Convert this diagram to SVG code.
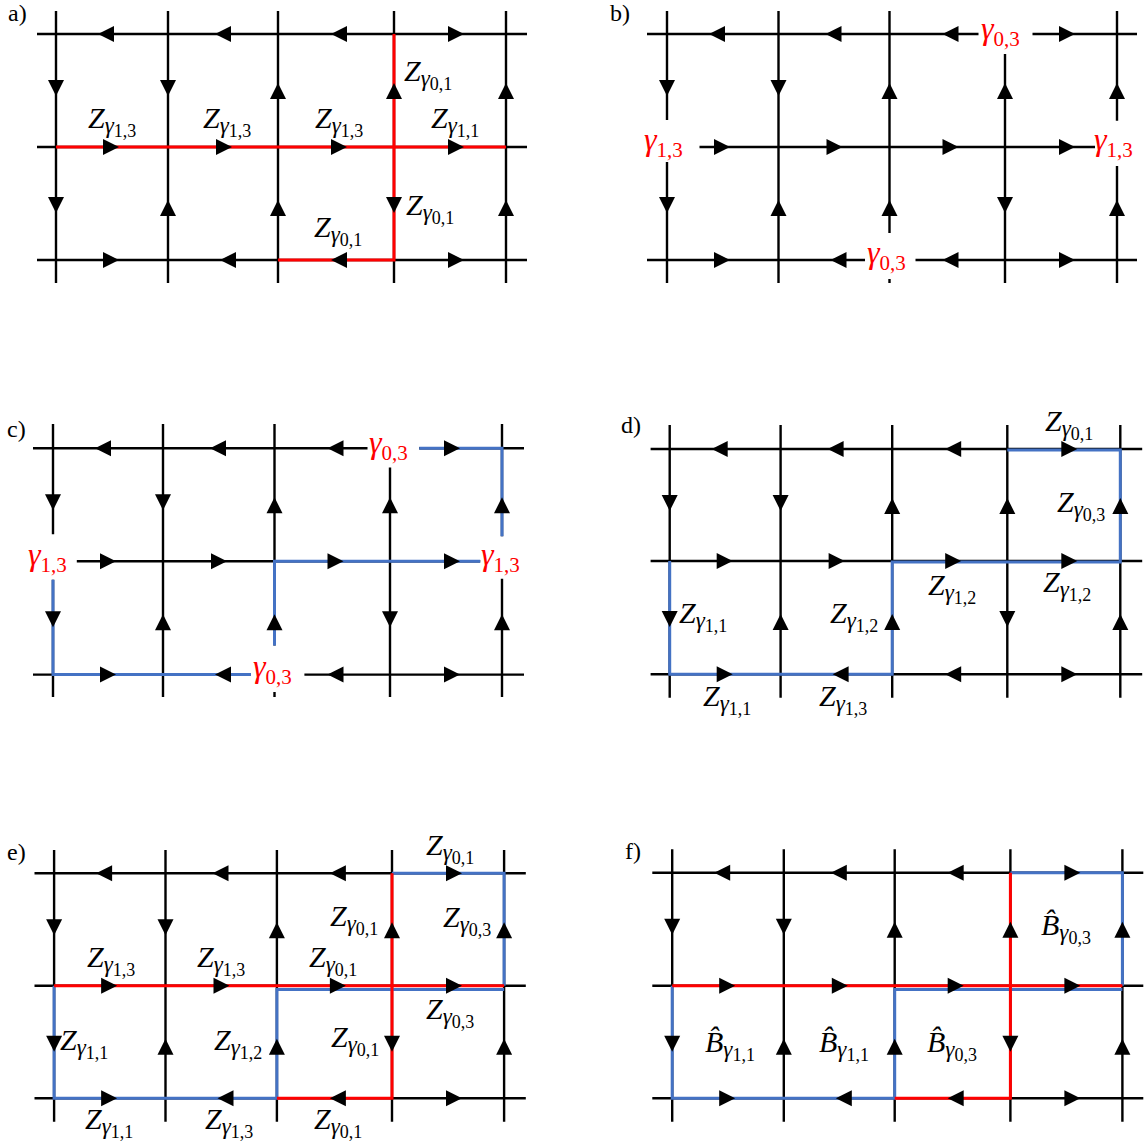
<svg xmlns="http://www.w3.org/2000/svg" width="1146" height="1147" viewBox="0 0 1146 1147">
<style>
.bg{fill:#fff}
.grid{fill:none;stroke:#000;stroke-width:2.4}
.red{fill:none;stroke:#ff0000;stroke-width:3}
.blue{fill:none;stroke:#4472c4;stroke-width:3}
.arr use{fill:#000}
.tag{font-family:"Liberation Serif","Times New Roman",serif;font-size:24px;fill:#000}
.m{font-family:"Liberation Serif","Times New Roman",serif;font-style:italic;font-size:30px;fill:#000}
.s1{font-size:23px}
.s2{font-size:18px;font-style:normal}
.r{fill:#ff0000;font-size:32px}
.r .s2{font-size:21px}
</style>
<defs>
<path id="R" d="M-8,-8L8,0L-8,8Z"/>
<path id="L" d="M8,-8L-8,0L8,8Z"/>
<path id="U" d="M-8,8L0,-8L8,8Z"/>
<path id="D" d="M-8,-8L0,8L8,-8Z"/>
</defs>
<rect class="bg" x="0" y="0" width="1146" height="1147"/>

<!-- Panel a -->
<g id="panel-a">
<text class="tag" x="8" y="21">a)</text>
<g id="a-connectors">
<path class="grid" d="M37,34H527M37,147H527M37,260H527M56,11V283M168,11V283M278,11V283M394,11V283M506,11V283"/>
<path class="red" d="M56,147H506M394,34V260H278"/>
</g>
<g class="arr">
<use href="#L" x="106" y="34"/><use href="#L" x="223" y="34"/><use href="#L" x="339" y="34"/><use href="#R" x="456" y="34"/>
<use href="#R" x="111" y="147"/><use href="#R" x="224" y="147"/><use href="#R" x="339" y="147"/><use href="#R" x="456" y="147"/>
<use href="#R" x="111" y="260"/><use href="#L" x="228" y="260"/><use href="#L" x="339" y="260"/><use href="#R" x="456" y="260"/>
<use href="#D" x="56" y="88"/><use href="#D" x="168" y="88"/><use href="#U" x="278" y="91"/><use href="#U" x="394" y="91"/><use href="#U" x="506" y="91"/>
<use href="#D" x="56" y="205"/><use href="#U" x="168" y="208"/><use href="#U" x="278" y="208"/><use href="#D" x="394" y="205"/><use href="#U" x="506" y="208"/>
</g>
<g id="a-labels">
<text class="m" x="88" y="128">Z<tspan class="s1" dy="5">γ</tspan><tspan class="s2" dy="4">1,3</tspan></text>
<text class="m" x="203" y="128">Z<tspan class="s1" dy="5">γ</tspan><tspan class="s2" dy="4">1,3</tspan></text>
<text class="m" x="315" y="128">Z<tspan class="s1" dy="5">γ</tspan><tspan class="s2" dy="4">1,3</tspan></text>
<text class="m" x="431" y="128">Z<tspan class="s1" dy="5">γ</tspan><tspan class="s2" dy="4">1,1</tspan></text>
<text class="m" x="404" y="81">Z<tspan class="s1" dy="5">γ</tspan><tspan class="s2" dy="4">0,1</tspan></text>
<text class="m" x="406" y="215">Z<tspan class="s1" dy="5">γ</tspan><tspan class="s2" dy="4">0,1</tspan></text>
<text class="m" x="314" y="237">Z<tspan class="s1" dy="5">γ</tspan><tspan class="s2" dy="4">0,1</tspan></text>
</g>
</g>

<!-- Panel b -->
<g id="panel-b">
<text class="tag" x="610" y="21">b)</text>
<g id="b-connectors">
<path class="grid" d="M647,34H978.5M1032.5,34H1137M699.5,147H1095M647,260H865M915.5,260H1137M667,11V120M667,162V283M778.5,11V283M889.5,11V233M889.5,279V283M1005,54V283M1117,11V120.7M1117,166V283"/>
</g>
<g class="arr">
<use href="#L" x="717" y="34"/><use href="#L" x="833.5" y="34"/><use href="#L" x="950.5" y="34"/><use href="#R" x="1067" y="34"/>
<use href="#R" x="722" y="147"/><use href="#R" x="834.5" y="147"/><use href="#R" x="950.5" y="147"/><use href="#R" x="1067" y="147"/>
<use href="#R" x="722" y="260"/><use href="#L" x="838.5" y="260"/><use href="#L" x="950.5" y="260"/><use href="#R" x="1067" y="260"/>
<use href="#D" x="667" y="88"/><use href="#D" x="778.5" y="88"/><use href="#U" x="889.5" y="91"/><use href="#U" x="1005" y="91"/><use href="#U" x="1117" y="91"/>
<use href="#D" x="667" y="205"/><use href="#U" x="778.5" y="208"/><use href="#U" x="889.5" y="208"/><use href="#D" x="1005" y="205"/><use href="#U" x="1117" y="208"/>
</g>
<g id="b-labels">
<text class="m r" x="981" y="39">γ<tspan class="s2" dy="7">0,3</tspan></text>
<text class="m r" x="644" y="150">γ<tspan class="s2" dy="7">1,3</tspan></text>
<text class="m r" x="1094" y="150">γ<tspan class="s2" dy="7">1,3</tspan></text>
<text class="m r" x="867" y="263">γ<tspan class="s2" dy="7">0,3</tspan></text>
</g>
</g>

<!-- Panel c -->
<g id="panel-c">
<text class="tag" x="7" y="437">c)</text>
<g id="c-connectors">
<path class="grid" d="M33,448.3H367.5M419.2,448.3H524M76.8,561.3H480.2M33,674.6H251M304.4,674.6H524M53,424V534.2M53,579.7V697M163,424V697M274.5,424V645.5M274.5,692V697M390,467.4V697M502,424V536.2M502,578.7V697"/>
<path class="blue" d="M419.2,448.3H502V536.2M480.2,561.3H274.5V645.5M53,579.7V674.6H251"/>
</g>
<g class="arr">
<use href="#L" x="103" y="448.3"/><use href="#L" x="218" y="448.3"/><use href="#L" x="335.5" y="448.3"/><use href="#R" x="452" y="448.3"/>
<use href="#R" x="108" y="561.3"/><use href="#R" x="219" y="561.3"/><use href="#R" x="335.5" y="561.3"/><use href="#R" x="452" y="561.3"/>
<use href="#R" x="108" y="674.6"/><use href="#L" x="223" y="674.6"/><use href="#L" x="335.5" y="674.6"/><use href="#R" x="452" y="674.6"/>
<use href="#D" x="53" y="502.3"/><use href="#D" x="163" y="502.3"/><use href="#U" x="274.5" y="505.3"/><use href="#U" x="390" y="505.3"/><use href="#U" x="502" y="505.3"/>
<use href="#D" x="53" y="619.3"/><use href="#U" x="163" y="622.3"/><use href="#U" x="274.5" y="622.3"/><use href="#D" x="390" y="619.3"/><use href="#U" x="502" y="622.3"/>
</g>
<g id="c-labels">
<text class="m r" x="369" y="453">γ<tspan class="s2" dy="7">0,3</tspan></text>
<text class="m r" x="28" y="565">γ<tspan class="s2" dy="7">1,3</tspan></text>
<text class="m r" x="481" y="565">γ<tspan class="s2" dy="7">1,3</tspan></text>
<text class="m r" x="253" y="677">γ<tspan class="s2" dy="7">0,3</tspan></text>
</g>
</g>

<!-- Panel d -->
<g id="panel-d">
<text class="tag" x="621" y="433">d)</text>
<g id="d-connectors">
<path class="grid" d="M650.6,449H1142.2M650.6,561H1142.2M650.6,674.3H1142.2M669.7,425V697.7M780.6,425V697.7M892.2,425V697.7M1007.3,425V697.7M1120.3,425V697.7"/>
<path class="blue" d="M1007.3,450H1120.3V562H892.2V674.3H669.7V561"/>
</g>
<g class="arr">
<use href="#L" x="719.7" y="449"/><use href="#L" x="835.6" y="449"/><use href="#L" x="953.2" y="449"/><use href="#R" x="1069.3" y="449"/>
<use href="#R" x="724.7" y="561"/><use href="#R" x="836.6" y="561"/><use href="#R" x="953.2" y="561"/><use href="#R" x="1069.3" y="561"/>
<use href="#R" x="724.7" y="674.3"/><use href="#L" x="840.6" y="674.3"/><use href="#L" x="953.2" y="674.3"/><use href="#R" x="1069.3" y="674.3"/>
<use href="#D" x="669.7" y="503"/><use href="#D" x="780.6" y="503"/><use href="#U" x="892.2" y="506"/><use href="#U" x="1007.3" y="506"/><use href="#U" x="1120.3" y="506"/>
<use href="#D" x="669.7" y="619"/><use href="#U" x="780.6" y="622"/><use href="#U" x="892.2" y="622"/><use href="#D" x="1007.3" y="619"/><use href="#U" x="1120.3" y="622"/>
</g>
<g id="d-labels">
<text class="m" x="1045" y="431">Z<tspan class="s1" dy="5">γ</tspan><tspan class="s2" dy="4">0,1</tspan></text>
<text class="m" x="1057" y="512">Z<tspan class="s1" dy="5">γ</tspan><tspan class="s2" dy="4">0,3</tspan></text>
<text class="m" x="928" y="595">Z<tspan class="s1" dy="5">γ</tspan><tspan class="s2" dy="4">1,2</tspan></text>
<text class="m" x="1043" y="592">Z<tspan class="s1" dy="5">γ</tspan><tspan class="s2" dy="4">1,2</tspan></text>
<text class="m" x="679" y="623">Z<tspan class="s1" dy="5">γ</tspan><tspan class="s2" dy="4">1,1</tspan></text>
<text class="m" x="830" y="623">Z<tspan class="s1" dy="5">γ</tspan><tspan class="s2" dy="4">1,2</tspan></text>
<text class="m" x="703" y="706">Z<tspan class="s1" dy="5">γ</tspan><tspan class="s2" dy="4">1,1</tspan></text>
<text class="m" x="819" y="706">Z<tspan class="s1" dy="5">γ</tspan><tspan class="s2" dy="4">1,3</tspan></text>
</g>
</g>

<!-- Panel e -->
<g id="panel-e">
<text class="tag" x="7" y="860">e)</text>
<g id="e-connectors">
<path class="grid" d="M34.5,873.3H525.8M34.5,985.7H525.8M34.5,1098.3H525.8M54.1,850V1121.7M165.5,850V1121.7M276.9,850V1121.7M392,850V1121.7M504.1,850V1121.7"/>
<path class="blue" d="M392,873.3H504.1V985.7M504.1,989.5H276.9V1098.3H54.1V985.7"/>
<path class="red" d="M54.1,985.7H504.1M392,873.3V1098.3H276.9"/>
</g>
<g class="arr">
<use href="#L" x="104.1" y="873.3"/><use href="#L" x="220.5" y="873.3"/><use href="#L" x="337.9" y="873.3"/><use href="#R" x="454" y="873.3"/>
<use href="#R" x="109.1" y="985.7"/><use href="#R" x="221.5" y="985.7"/><use href="#R" x="337.9" y="985.7"/><use href="#R" x="454" y="985.7"/>
<use href="#R" x="109.1" y="1098.3"/><use href="#L" x="225.5" y="1098.3"/><use href="#L" x="337.9" y="1098.3"/><use href="#R" x="454" y="1098.3"/>
<use href="#D" x="54.1" y="927.3"/><use href="#D" x="165.5" y="927.3"/><use href="#U" x="276.9" y="930.3"/><use href="#U" x="392" y="930.3"/><use href="#U" x="504.1" y="930.3"/>
<use href="#D" x="54.1" y="1043.7"/><use href="#U" x="165.5" y="1046.7"/><use href="#U" x="276.9" y="1046.7"/><use href="#D" x="392" y="1043.7"/><use href="#U" x="504.1" y="1046.7"/>
</g>
<g id="e-labels">
<text class="m" x="426" y="855">Z<tspan class="s1" dy="5">γ</tspan><tspan class="s2" dy="4">0,1</tspan></text>
<text class="m" x="330" y="926">Z<tspan class="s1" dy="5">γ</tspan><tspan class="s2" dy="4">0,1</tspan></text>
<text class="m" x="443" y="927">Z<tspan class="s1" dy="5">γ</tspan><tspan class="s2" dy="4">0,3</tspan></text>
<text class="m" x="87" y="967">Z<tspan class="s1" dy="5">γ</tspan><tspan class="s2" dy="4">1,3</tspan></text>
<text class="m" x="197" y="967">Z<tspan class="s1" dy="5">γ</tspan><tspan class="s2" dy="4">1,3</tspan></text>
<text class="m" x="309" y="967">Z<tspan class="s1" dy="5">γ</tspan><tspan class="s2" dy="4">0,1</tspan></text>
<text class="m" x="426" y="1019">Z<tspan class="s1" dy="5">γ</tspan><tspan class="s2" dy="4">0,3</tspan></text>
<text class="m" x="60" y="1050">Z<tspan class="s1" dy="5">γ</tspan><tspan class="s2" dy="4">1,1</tspan></text>
<text class="m" x="214" y="1050">Z<tspan class="s1" dy="5">γ</tspan><tspan class="s2" dy="4">1,2</tspan></text>
<text class="m" x="331" y="1047">Z<tspan class="s1" dy="5">γ</tspan><tspan class="s2" dy="4">0,1</tspan></text>
<text class="m" x="85" y="1129">Z<tspan class="s1" dy="5">γ</tspan><tspan class="s2" dy="4">1,1</tspan></text>
<text class="m" x="205" y="1129">Z<tspan class="s1" dy="5">γ</tspan><tspan class="s2" dy="4">1,3</tspan></text>
<text class="m" x="314" y="1129">Z<tspan class="s1" dy="5">γ</tspan><tspan class="s2" dy="4">0,1</tspan></text>
</g>
</g>

<!-- Panel f -->
<g id="panel-f">
<text class="tag" x="625" y="859">f)</text>
<g id="f-connectors">
<path class="grid" d="M652.3,872.7H1143.3M652.3,985.7H1143.3M652.3,1098.3H1143.3M672.2,849.3V1121.7M783.8,849.3V1121.7M894.7,849.3V1121.7M1010.4,849.3V1121.7M1122.4,849.3V1121.7"/>
<path class="blue" d="M1010.4,872.7H1122.4V985.7M1122.4,989.5H894.7V1098.3H672.2V985.7"/>
<path class="red" d="M672.2,985.7H1122.4M1010.4,872.7V1098.3H894.7"/>
</g>
<g class="arr">
<use href="#L" x="722.2" y="872.7"/><use href="#L" x="838.8" y="872.7"/><use href="#L" x="955.7" y="872.7"/><use href="#R" x="1072.4" y="872.7"/>
<use href="#R" x="727.2" y="985.7"/><use href="#R" x="839.8" y="985.7"/><use href="#R" x="955.7" y="985.7"/><use href="#R" x="1072.4" y="985.7"/>
<use href="#R" x="727.2" y="1098.3"/><use href="#L" x="843.8" y="1098.3"/><use href="#L" x="955.7" y="1098.3"/><use href="#R" x="1072.4" y="1098.3"/>
<use href="#D" x="672.2" y="926.7"/><use href="#D" x="783.8" y="926.7"/><use href="#U" x="894.7" y="929.7"/><use href="#U" x="1010.4" y="929.7"/><use href="#U" x="1122.4" y="929.7"/>
<use href="#D" x="672.2" y="1043.7"/><use href="#U" x="783.8" y="1046.7"/><use href="#U" x="894.7" y="1046.7"/><use href="#D" x="1010.4" y="1043.7"/><use href="#U" x="1122.4" y="1046.7"/>
</g>
<g id="f-labels">
<text class="m" x="1041" y="935">B̂<tspan class="s1" dy="5">γ</tspan><tspan class="s2" dy="4">0,3</tspan></text>
<text class="m" x="705" y="1052">B̂<tspan class="s1" dy="5">γ</tspan><tspan class="s2" dy="4">1,1</tspan></text>
<text class="m" x="819" y="1052">B̂<tspan class="s1" dy="5">γ</tspan><tspan class="s2" dy="4">1,1</tspan></text>
<text class="m" x="927" y="1052">B̂<tspan class="s1" dy="5">γ</tspan><tspan class="s2" dy="4">0,3</tspan></text>
</g>
</g>
</svg>
